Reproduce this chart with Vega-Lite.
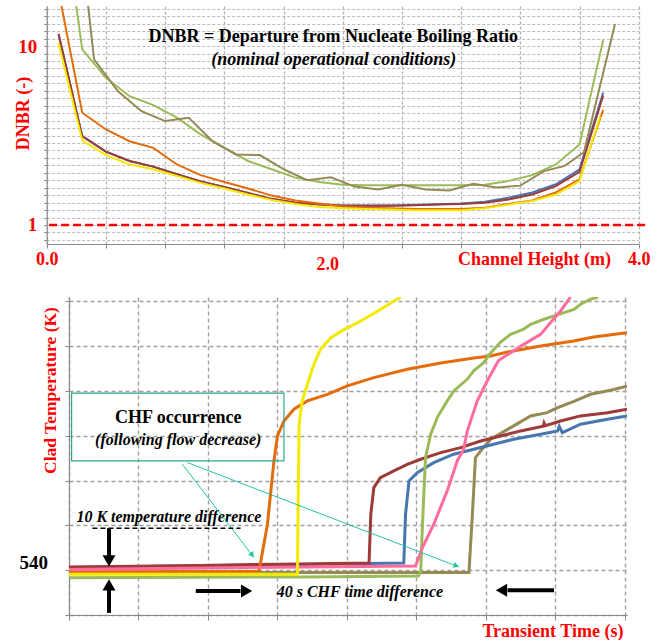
{
  "$schema": "https://vega.github.io/schema/vega-lite/v6.json",
  "background": "white",
  "padding": {"left": 14, "top": 2, "right": 0, "bottom": 0},
  "bounds": "flush",
  "spacing": 53,
  "config": {
    "view": {"stroke": null},
    "axis": {"domainColor": "#8a8a8a", "domainWidth": 1.2, "tickColor": "#8a8a8a", "gridColor": "#a0a0a0", "gridDash": [4, 3], "gridWidth": 1.4, "labelFont": "Liberation Serif", "titleFont": "Liberation Serif", "labelOverlap": false, "labelFlush": false}
  },
  "datasets": {
    "dnbr": [
      {"case":"Case 4","h":0.08,"d":11.7},{"case":"Case 4","h":0.24,"d":3.14},{"case":"Case 4","h":0.40,"d":2.57},{"case":"Case 4","h":0.56,"d":2.28},{"case":"Case 4","h":0.72,"d":2.12},{"case":"Case 4","h":0.88,"d":1.92},{"case":"Case 4","h":1.04,"d":1.75},{"case":"Case 4","h":1.20,"d":1.63},{"case":"Case 4","h":1.36,"d":1.51},{"case":"Case 4","h":1.52,"d":1.40},{"case":"Case 4","h":1.68,"d":1.33},{"case":"Case 4","h":1.84,"d":1.305},{"case":"Case 4","h":2.00,"d":1.285},{"case":"Case 4","h":2.16,"d":1.285},{"case":"Case 4","h":2.32,"d":1.285},{"case":"Case 4","h":2.48,"d":1.295},{"case":"Case 4","h":2.64,"d":1.305},{"case":"Case 4","h":2.80,"d":1.32},{"case":"Case 4","h":2.96,"d":1.35},{"case":"Case 4","h":3.12,"d":1.42},{"case":"Case 4","h":3.28,"d":1.52},{"case":"Case 4","h":3.44,"d":1.69},{"case":"Case 4","h":3.60,"d":2.05},{"case":"Case 4","h":3.76,"d":5.5},
      {"case":"Case 3","h":0.08,"d":11.7},{"case":"Case 3","h":0.24,"d":3.14},{"case":"Case 3","h":0.40,"d":2.57},{"case":"Case 3","h":0.56,"d":2.28},{"case":"Case 3","h":0.72,"d":2.12},{"case":"Case 3","h":0.88,"d":1.92},{"case":"Case 3","h":1.04,"d":1.75},{"case":"Case 3","h":1.20,"d":1.63},{"case":"Case 3","h":1.36,"d":1.51},{"case":"Case 3","h":1.52,"d":1.40},{"case":"Case 3","h":1.68,"d":1.33},{"case":"Case 3","h":1.84,"d":1.30},{"case":"Case 3","h":2.00,"d":1.28},{"case":"Case 3","h":2.16,"d":1.28},{"case":"Case 3","h":2.32,"d":1.28},{"case":"Case 3","h":2.48,"d":1.29},{"case":"Case 3","h":2.64,"d":1.30},{"case":"Case 3","h":2.80,"d":1.31},{"case":"Case 3","h":2.96,"d":1.33},{"case":"Case 3","h":3.12,"d":1.39},{"case":"Case 3","h":3.28,"d":1.48},{"case":"Case 3","h":3.44,"d":1.65},{"case":"Case 3","h":3.60,"d":1.98},{"case":"Case 3","h":3.76,"d":5.3},
      {"case":"Case 5","h":0.20,"d":16.76},{"case":"Case 5","h":0.24,"d":9.6},{"case":"Case 5","h":0.40,"d":6.65},{"case":"Case 5","h":0.56,"d":5.25},{"case":"Case 5","h":0.72,"d":4.68},{"case":"Case 5","h":0.88,"d":3.98},{"case":"Case 5","h":1.04,"d":3.21},{"case":"Case 5","h":1.20,"d":2.70},{"case":"Case 5","h":1.36,"d":2.28},{"case":"Case 5","h":1.52,"d":2.05},{"case":"Case 5","h":1.68,"d":1.84},{"case":"Case 5","h":1.84,"d":1.74},{"case":"Case 5","h":2.00,"d":1.68},{"case":"Case 5","h":2.16,"d":1.67},{"case":"Case 5","h":2.32,"d":1.67},{"case":"Case 5","h":2.48,"d":1.67},{"case":"Case 5","h":2.64,"d":1.67},{"case":"Case 5","h":2.80,"d":1.67},{"case":"Case 5","h":2.96,"d":1.68},{"case":"Case 5","h":3.12,"d":1.76},{"case":"Case 5","h":3.28,"d":1.90},{"case":"Case 5","h":3.44,"d":2.18},{"case":"Case 5","h":3.60,"d":2.82},{"case":"Case 5","h":3.76,"d":10.8},
      {"case":"Case 7","h":0.28,"d":16.76},{"case":"Case 7","h":0.32,"d":8.43},{"case":"Case 7","h":0.48,"d":5.61},{"case":"Case 7","h":0.64,"d":4.33},{"case":"Case 7","h":0.80,"d":3.81},{"case":"Case 7","h":0.96,"d":3.98},{"case":"Case 7","h":1.12,"d":2.94},{"case":"Case 7","h":1.28,"d":2.48},{"case":"Case 7","h":1.44,"d":2.46},{"case":"Case 7","h":1.60,"d":2.05},{"case":"Case 7","h":1.76,"d":1.78},{"case":"Case 7","h":1.92,"d":1.85},{"case":"Case 7","h":2.08,"d":1.64},{"case":"Case 7","h":2.24,"d":1.58},{"case":"Case 7","h":2.40,"d":1.68},{"case":"Case 7","h":2.56,"d":1.58},{"case":"Case 7","h":2.72,"d":1.56},{"case":"Case 7","h":2.88,"d":1.70},{"case":"Case 7","h":3.04,"d":1.62},{"case":"Case 7","h":3.20,"d":1.66},{"case":"Case 7","h":3.36,"d":2.0},{"case":"Case 7","h":3.50,"d":2.14},{"case":"Case 7","h":3.63,"d":2.55},{"case":"Case 7","h":3.84,"d":13.3},
      {"case":"Case 1","h":0.10,"d":16.76},{"case":"Case 1","h":0.24,"d":4.24},{"case":"Case 1","h":0.40,"d":3.42},{"case":"Case 1","h":0.56,"d":2.94},{"case":"Case 1","h":0.72,"d":2.70},{"case":"Case 1","h":0.88,"d":2.18},{"case":"Case 1","h":1.04,"d":1.90},{"case":"Case 1","h":1.20,"d":1.74},{"case":"Case 1","h":1.36,"d":1.60},{"case":"Case 1","h":1.52,"d":1.46},{"case":"Case 1","h":1.68,"d":1.37},{"case":"Case 1","h":1.84,"d":1.32},{"case":"Case 1","h":2.00,"d":1.27},{"case":"Case 1","h":2.16,"d":1.25},{"case":"Case 1","h":2.32,"d":1.24},{"case":"Case 1","h":2.48,"d":1.23},{"case":"Case 1","h":2.64,"d":1.23},{"case":"Case 1","h":2.80,"d":1.23},{"case":"Case 1","h":2.96,"d":1.25},{"case":"Case 1","h":3.12,"d":1.31},{"case":"Case 1","h":3.28,"d":1.37},{"case":"Case 1","h":3.44,"d":1.52},{"case":"Case 1","h":3.60,"d":1.80},{"case":"Case 1","h":3.76,"d":4.4},
      {"case":"Case 2","h":0.08,"d":10.4},{"case":"Case 2","h":0.24,"d":2.97},{"case":"Case 2","h":0.40,"d":2.46},{"case":"Case 2","h":0.56,"d":2.18},{"case":"Case 2","h":0.72,"d":2.05},{"case":"Case 2","h":0.88,"d":1.88},{"case":"Case 2","h":1.04,"d":1.72},{"case":"Case 2","h":1.20,"d":1.60},{"case":"Case 2","h":1.36,"d":1.48},{"case":"Case 2","h":1.52,"d":1.38},{"case":"Case 2","h":1.68,"d":1.31},{"case":"Case 2","h":1.84,"d":1.26},{"case":"Case 2","h":2.00,"d":1.24},{"case":"Case 2","h":2.16,"d":1.23},{"case":"Case 2","h":2.32,"d":1.22},{"case":"Case 2","h":2.48,"d":1.21},{"case":"Case 2","h":2.64,"d":1.21},{"case":"Case 2","h":2.80,"d":1.21},{"case":"Case 2","h":2.96,"d":1.24},{"case":"Case 2","h":3.12,"d":1.30},{"case":"Case 2","h":3.28,"d":1.36},{"case":"Case 2","h":3.44,"d":1.48},{"case":"Case 2","h":3.60,"d":1.76},{"case":"Case 2","h":3.74,"d":4.05}
    ],
    "limit": [{"h": 0.016, "h2": 4.05, "d": 1}],
    "toptitle": [{"h": 1.936, "d": 11.27, "label": "DNBR = Departure from Nucleate Boiling Ratio"}],
    "topsub": [{"h": 1.94, "d": 8.32, "label": "(nominal operational conditions)"}],
    "clad": [
      {"case":"Case 7","t":0,"T":538.0},{"case":"Case 7","t":92.1,"T":538.0},{"case":"Case 7","t":92.9,"T":590.0},{"case":"Case 7","t":93.6,"T":640.5},{"case":"Case 7","t":94.8,"T":646.5},{"case":"Case 7","t":97.1,"T":657.0},{"case":"Case 7","t":101.7,"T":667.3},{"case":"Case 7","t":106.3,"T":677.8},{"case":"Case 7","t":110.1,"T":680.7},{"case":"Case 7","t":112.4,"T":684.9},{"case":"Case 7","t":116.3,"T":690.7},{"case":"Case 7","t":120.1,"T":697.1},{"case":"Case 7","t":124.7,"T":700.7},{"case":"Case 7","t":128.5,"T":704.4},
      {"case":"Case 4","t":0,"T":542.5},{"case":"Case 4","t":53,"T":545.2},{"case":"Case 4","t":77.1,"T":546.5},{"case":"Case 4","t":77.5,"T":590.0},{"case":"Case 4","t":78.3,"T":619.7},{"case":"Case 4","t":80.2,"T":627.1},{"case":"Case 4","t":84.0,"T":636.1},{"case":"Case 4","t":88.6,"T":643.6},{"case":"Case 4","t":93.2,"T":648.0},{"case":"Case 4","t":97.8,"T":652.5},{"case":"Case 4","t":102.4,"T":657.0},{"case":"Case 4","t":108.6,"T":661.4},{"case":"Case 4","t":112.5,"T":664.4},{"case":"Case 4","t":112.9,"T":668.5},{"case":"Case 4","t":113.6,"T":662.8},{"case":"Case 4","t":117.8,"T":670.4},{"case":"Case 4","t":124.0,"T":674.8},{"case":"Case 4","t":128.5,"T":677.8},
      {"case":"Case 3","t":0,"T":542.9},{"case":"Case 3","t":30,"T":544.3},{"case":"Case 3","t":53,"T":545.6},{"case":"Case 3","t":69.1,"T":546.5},{"case":"Case 3","t":69.5,"T":590.0},{"case":"Case 3","t":70.2,"T":613.8},{"case":"Case 3","t":71.7,"T":622.7},{"case":"Case 3","t":74.8,"T":628.7},{"case":"Case 3","t":77.9,"T":634.6},{"case":"Case 3","t":81.0,"T":639.1},{"case":"Case 3","t":85.6,"T":645.0},{"case":"Case 3","t":90.2,"T":649.5},{"case":"Case 3","t":94.8,"T":655.4},{"case":"Case 3","t":99.4,"T":659.9},{"case":"Case 3","t":104.0,"T":664.4},{"case":"Case 3","t":109.2,"T":668.5},{"case":"Case 3","t":109.4,"T":671.5},{"case":"Case 3","t":109.7,"T":669.0},{"case":"Case 3","t":113.2,"T":673.3},{"case":"Case 3","t":117.8,"T":677.8},{"case":"Case 3","t":124.0,"T":680.7},{"case":"Case 3","t":128.5,"T":683.8},
      {"case":"Case 1","t":0,"T":538.6},{"case":"Case 1","t":43.7,"T":538.8},{"case":"Case 1","t":44.1,"T":546.5},{"case":"Case 1","t":45.7,"T":581.1},{"case":"Case 1","t":47.2,"T":637.6},{"case":"Case 1","t":48.0,"T":659.9},{"case":"Case 1","t":49.5,"T":673.3},{"case":"Case 1","t":51.8,"T":683.8},{"case":"Case 1","t":54.9,"T":691.2},{"case":"Case 1","t":59.5,"T":697.1},{"case":"Case 1","t":64.1,"T":704.6},{"case":"Case 1","t":70.2,"T":712.0},{"case":"Case 1","t":77.9,"T":719.5},{"case":"Case 1","t":85.6,"T":725.1},{"case":"Case 1","t":93.2,"T":729.6},{"case":"Case 1","t":97.1,"T":731.3},{"case":"Case 1","t":101.0,"T":734.9},{"case":"Case 1","t":108.6,"T":740.3},{"case":"Case 1","t":116.2,"T":744.7},{"case":"Case 1","t":120.8,"T":748.3},{"case":"Case 1","t":128.5,"T":752.1},
      {"case":"Case 5","t":0,"T":533.3},{"case":"Case 5","t":53.3,"T":534.0},{"case":"Case 5","t":80.5,"T":534.9},{"case":"Case 5","t":81.0,"T":539.4},{"case":"Case 5","t":81.4,"T":581.1},{"case":"Case 5","t":82.1,"T":640.5},{"case":"Case 5","t":83.3,"T":661.4},{"case":"Case 5","t":84.8,"T":676.3},{"case":"Case 5","t":87.1,"T":691.2},{"case":"Case 5","t":88.6,"T":700.1},{"case":"Case 5","t":91.7,"T":710.5},{"case":"Case 5","t":93.2,"T":718.0},{"case":"Case 5","t":95.5,"T":725.4},{"case":"Case 5","t":97.1,"T":734.0},{"case":"Case 5","t":99.4,"T":743.8},{"case":"Case 5","t":101.7,"T":750.7},{"case":"Case 5","t":104.7,"T":755.2},{"case":"Case 5","t":106.3,"T":759.6},{"case":"Case 5","t":109.4,"T":764.1},{"case":"Case 5","t":112.4,"T":768.0},{"case":"Case 5","t":116.3,"T":773.0},{"case":"Case 5","t":117.8,"T":777.5},{"case":"Case 5","t":120.1,"T":782.0},{"case":"Case 5","t":121.9,"T":784.0},
      {"case":"Case 6","t":0,"T":540.7},{"case":"Case 6","t":41.8,"T":542.5},{"case":"Case 6","t":79.8,"T":543.8},{"case":"Case 6","t":81.4,"T":560.2},{"case":"Case 6","t":84.0,"T":581.1},{"case":"Case 6","t":87.1,"T":610.8},{"case":"Case 6","t":89.4,"T":637.6},{"case":"Case 6","t":90.9,"T":648.3},{"case":"Case 6","t":91.7,"T":664.0},{"case":"Case 6","t":94.0,"T":691.0},{"case":"Case 6","t":96.3,"T":709.0},{"case":"Case 6","t":98.9,"T":727.2},{"case":"Case 6","t":101.7,"T":734.3},{"case":"Case 6","t":104.7,"T":741.7},{"case":"Case 6","t":108.6,"T":750.6},{"case":"Case 6","t":110.9,"T":761.1},{"case":"Case 6","t":113.2,"T":771.5},{"case":"Case 6","t":115.5,"T":784.0},
      {"case":"Case 2","t":0,"T":536.3},{"case":"Case 2","t":52.6,"T":536.4},{"case":"Case 2","t":52.8,"T":610.8},{"case":"Case 2","t":53.0,"T":670.4},{"case":"Case 2","t":53.7,"T":691.2},{"case":"Case 2","t":54.9,"T":706.1},{"case":"Case 2","t":56.4,"T":723.9},{"case":"Case 2","t":57.9,"T":737.3},{"case":"Case 2","t":60.3,"T":747.7},{"case":"Case 2","t":62.8,"T":753.7},{"case":"Case 2","t":67.2,"T":762.6},{"case":"Case 2","t":71.8,"T":773.0},{"case":"Case 2","t":74.1,"T":778.7},{"case":"Case 2","t":76.4,"T":784.0}
    ],
    "box": [{"t1": 0.6, "t2": 49.5, "T1": 637.6, "T2": 698.1}],
    "chf1": [{"t": 25.15, "T": 675.6, "label": "CHF occurrence"}],
    "chf2": [{"t": 25.15, "T": 656.4, "label": "(following flow decrease)"}],
    "italics": [
      {"t": 23.0, "T": 587.6, "label": "10 K temperature difference"},
      {"t": 67.0, "T": 520.8, "label": "40 s CHF time difference"}
    ],
    "pointers": [
      {"t": 26.1, "T": 634.7, "t2": 42.6, "T2": 551.3},
      {"t": 27.3, "T": 636.1, "t2": 89.8, "T2": 542.9}
    ],
    "pointer1": [{"t": 42.2, "T": 553.5}],
    "pointer2": [{"t": 89.2, "T": 543.9}],
    "shafts": [
      {"t": 9.21, "T": 577.5, "t2": 9.21, "T2": 552.0},
      {"t": 9.21, "T": 501.9, "t2": 9.21, "T2": 523.0},
      {"t": 29.2, "T": 521.5, "t2": 39.5, "T2": 521.5},
      {"t": 111.7, "T": 522.1, "t2": 101.0, "T2": 522.1}
    ],
    "heads": [
      {"t": 9.21, "T": 548.3, "dir": "down"},
      {"t": 9.21, "T": 526.9, "dir": "up"},
      {"t": 40.9, "T": 521.5, "dir": "right"},
      {"t": 99.6, "T": 522.1, "dir": "left"}
    ],
    "guide": [{"t": 5.39, "t2": 39.5, "T": 577.5}]
  },
  "vconcat": [
    {
      "width": 570,
      "height": 238,
      "layer": [
        {
          "data": {"name": "dnbr"},
          "mark": {"type": "line", "strokeWidth": 2},
          "encoding": {
            "x": {
              "field": "h", "type": "quantitative",
              "scale": {"domain": [0, 4], "range": [-22.3, 569.7], "nice": false, "zero": false},
              "axis": {
                "values": [0,0.1,0.2,0.3,0.4,0.5,0.6,0.7,0.8,0.9,1,1.1,1.2,1.3,1.4,1.5,1.6,1.7,1.8,1.9,2,2.1,2.2,2.3,2.4,2.5,2.6,2.7,2.8,2.9,3,3.1,3.2,3.3,3.4,3.5,3.6,3.7,3.8,3.9,4],
                "labelExpr": "datum.value == 0 ? '0.0' : (datum.value == 2 ? '2.0' : (datum.value == 4 ? '4.0' : ''))",
                "labelFontSize": {"condition": {"test": "datum.value == 0 || datum.value == 2 || datum.value == 4", "value": 18}, "value": 0},
                "labelFontWeight": "bold", "labelColor": "#FF0000",
                "labelBaseline": "middle",
                "labelPadding": {"condition": {"test": "datum.value == 2", "value": 16.3}, "value": 11.3},
                "labelOffset": {"condition": {"test": "datum.value == 2", "value": -15.5}, "value": 0},
                "tickSize": 4,
                "grid": true, "gridColor": "#b4b4b4", "gridDash": [3, 2], "gridWidth": 1.3,
                "title": "Channel Height (m)",
                "titleX": 465.1, "titleY": 15.3, "titleAlign": "center", "titleBaseline": "middle",
                "titleColor": "#FF0000", "titleFontSize": 18, "titleFontWeight": "bold"
              }
            },
            "y": {
              "field": "d", "type": "quantitative",
              "scale": {"type": "log", "domain": [0.783, 16.76], "nice": false},
              "axis": {
                "values": [0.825,0.909,1,1.1007,1.2115,1.3335,1.4678,1.6156,1.7783,1.9573,2.1544,2.3714,2.6102,2.873,3.1623,3.4807,3.8312,4.217,4.6416,5.109,5.6234,6.1897,6.8129,7.4989,8.254,9.0852,10,11.007,12.115,13.335,14.678,16.156],
                "labelExpr": "datum.value == 1 ? '1' : (datum.value == 10 ? '10' : '')",
                "labelFontSize": {"condition": {"test": "datum.value == 1 || datum.value == 10", "value": 19}, "value": 0},
                "offset": 22.3,
                "labelFontWeight": "bold", "labelColor": "#FF0000",
                "labelBaseline": "middle", "labelPadding": 7,
                "tickSize": 3,
                "grid": true, "gridColor": "#bcbcbc", "gridDash": [3, 2], "gridWidth": 1,
                "title": "DNBR (-)",
                "titleX": -23, "titleY": 107, "titleAlign": "center", "titleBaseline": "middle", "titleAngle": 270,
                "titleColor": "#FF0000", "titleFontSize": 18, "titleFontWeight": "bold"
              }
            },
            "color": {
              "field": "case", "type": "nominal",
              "scale": {"domain": ["Case 1","Case 2","Case 3","Case 4","Case 5","Case 6","Case 7"], "range": ["#E46C0A","#F2EA00","#9E3B38","#4A76B0","#9BBB59","#FF6C9C","#948A54"]},
              "legend": null
            }
          }
        },
        {
          "data": {"name": "limit"},
          "mark": {"type": "rule", "color": "#FF0000", "strokeWidth": 2.5, "strokeDash": [8, 4]},
          "encoding": {"x": {"field": "h", "type": "quantitative"}, "x2": {"field": "h2"}, "y": {"field": "d", "type": "quantitative"}}
        },
        {
          "data": {"name": "toptitle"},
          "mark": {"type": "text", "font": "Liberation Serif", "fontSize": 18, "fontWeight": "bold", "color": "#000000", "align": "center", "baseline": "middle"},
          "encoding": {"x": {"field": "h", "type": "quantitative"}, "y": {"field": "d", "type": "quantitative"}, "text": {"field": "label"}}
        },
        {
          "data": {"name": "topsub"},
          "mark": {"type": "text", "font": "Liberation Serif", "fontSize": 18, "fontWeight": "bold", "fontStyle": "italic", "color": "#000000", "align": "center", "baseline": "middle"},
          "encoding": {"x": {"field": "h", "type": "quantitative"}, "y": {"field": "d", "type": "quantitative"}, "text": {"field": "label"}}
        }
      ]
    },
    {
      "width": 558,
      "height": 318,
      "layer": [
        {
          "data": {"name": "clad"},
          "mark": {"type": "line", "strokeWidth": 3, "clip": true},
          "encoding": {
            "x": {
              "field": "t", "type": "quantitative",
              "scale": {"domain": [0, 128.5], "nice": false, "zero": false},
              "axis": {
                "values": [0,4,8,12,16,20,24,28,32,36,40,44,48,52,56,60,64,68,72,76,80,84,88,92,96,100,104,108,112,116,120,124,128],
                "labels": false, "tickSize": 5, "grid": true,
                "title": "Transient Time (s)",
                "titleX": 483.4, "titleY": 16, "titleAlign": "center", "titleBaseline": "middle",
                "titleColor": "#FF0000", "titleFontSize": 18, "titleFontWeight": "bold"
              }
            },
            "y": {
              "field": "T", "type": "quantitative",
              "scale": {"domain": [500, 784], "nice": false, "zero": false},
              "axis": {
                "values": [500,520,540,560,580,600,620,640,660,680,700,720,740,760,780],
                "labelExpr": "datum.value == 540 ? '540' : ''",
                "labelFontSize": {"condition": {"test": "datum.value == 540", "value": 19}, "value": 0},
                "labelFontWeight": "bold", "labelColor": "#000000",
                "labelBaseline": "middle", "labelPadding": 17.6, "labelOffset": -8,
                "tickSize": 4, "grid": true,
                "title": "Clad Temperature (K)",
                "titleX": -18.3, "titleY": 93, "titleAlign": "center", "titleBaseline": "middle", "titleAngle": 270,
                "titleColor": "#FF0000", "titleFontSize": 17.5, "titleFontWeight": "bold"
              }
            },
            "color": {
              "field": "case", "type": "nominal",
              "scale": {"domain": ["Case 1","Case 2","Case 3","Case 4","Case 5","Case 6","Case 7"], "range": ["#E46C0A","#F2EA00","#9E3B38","#4A76B0","#9BBB59","#FF6C9C","#948A54"]},
              "legend": null
            }
          }
        },
        {
          "data": {"name": "box"},
          "mark": {"type": "rect", "fill": "transparent", "stroke": "#2FA88C", "strokeWidth": 1.2},
          "encoding": {"x": {"field": "t1", "type": "quantitative"}, "x2": {"field": "t2"}, "y": {"field": "T1", "type": "quantitative"}, "y2": {"field": "T2"}}
        },
        {
          "data": {"name": "chf1"},
          "mark": {"type": "text", "font": "Liberation Serif", "fontSize": 18, "fontWeight": "bold", "color": "#000000", "align": "center", "baseline": "middle"},
          "encoding": {"x": {"field": "t", "type": "quantitative"}, "y": {"field": "T", "type": "quantitative"}, "text": {"field": "label"}}
        },
        {
          "data": {"name": "chf2"},
          "mark": {"type": "text", "font": "Liberation Serif", "fontSize": 16, "fontWeight": "bold", "fontStyle": "italic", "color": "#000000", "align": "center", "baseline": "middle"},
          "encoding": {"x": {"field": "t", "type": "quantitative"}, "y": {"field": "T", "type": "quantitative"}, "text": {"field": "label"}}
        },
        {
          "data": {"name": "italics"},
          "mark": {"type": "text", "font": "Liberation Serif", "fontSize": 16, "fontWeight": "bold", "fontStyle": "italic", "color": "#000000", "align": "center", "baseline": "middle"},
          "encoding": {"x": {"field": "t", "type": "quantitative"}, "y": {"field": "T", "type": "quantitative"}, "text": {"field": "label"}}
        },
        {
          "data": {"name": "pointers"},
          "mark": {"type": "rule", "color": "#22C4A2", "strokeWidth": 1},
          "encoding": {"x": {"field": "t", "type": "quantitative"}, "x2": {"field": "t2"}, "y": {"field": "T", "type": "quantitative"}, "y2": {"field": "T2"}}
        },
        {
          "data": {"name": "pointer1"},
          "mark": {"type": "point", "shape": "triangle-up", "angle": 142.6, "filled": true, "size": 40, "color": "#22C4A2", "opacity": 1},
          "encoding": {"x": {"field": "t", "type": "quantitative"}, "y": {"field": "T", "type": "quantitative"}}
        },
        {
          "data": {"name": "pointer2"},
          "mark": {"type": "point", "shape": "triangle-up", "angle": 111, "filled": true, "size": 40, "color": "#22C4A2", "opacity": 1},
          "encoding": {"x": {"field": "t", "type": "quantitative"}, "y": {"field": "T", "type": "quantitative"}}
        },
        {
          "data": {"name": "guide"},
          "mark": {"type": "rule", "color": "#000000", "strokeWidth": 1.5, "strokeDash": [5, 3]},
          "encoding": {"x": {"field": "t", "type": "quantitative"}, "x2": {"field": "t2"}, "y": {"field": "T", "type": "quantitative"}}
        },
        {
          "data": {"name": "shafts"},
          "mark": {"type": "rule", "color": "#000000", "strokeWidth": 4},
          "encoding": {"x": {"field": "t", "type": "quantitative"}, "x2": {"field": "t2"}, "y": {"field": "T", "type": "quantitative"}, "y2": {"field": "T2"}}
        },
        {
          "data": {"name": "heads"},
          "mark": {"type": "point", "filled": true, "size": 170, "color": "#000000", "opacity": 1},
          "encoding": {
            "x": {"field": "t", "type": "quantitative"},
            "y": {"field": "T", "type": "quantitative"},
            "shape": {"field": "dir", "type": "nominal", "scale": {"domain": ["down", "up", "right", "left"], "range": ["triangle-down", "triangle-up", "triangle-right", "triangle-left"]}, "legend": null}
          }
        }
      ]
    }
  ]
}
